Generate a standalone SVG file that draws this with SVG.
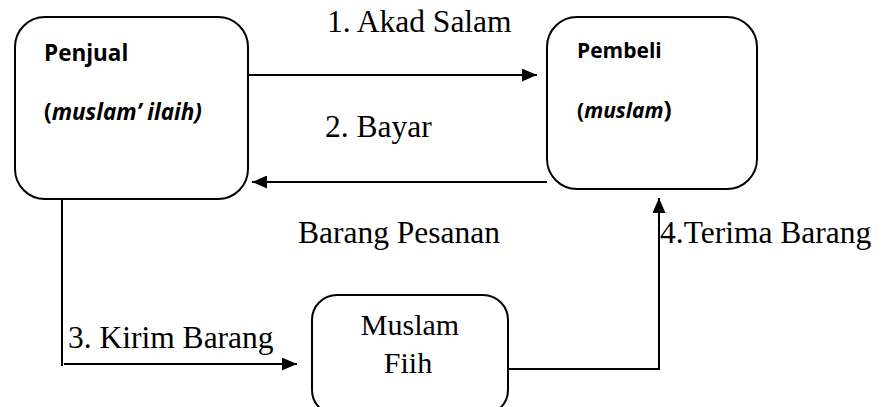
<svg xmlns="http://www.w3.org/2000/svg" width="882" height="407" viewBox="0 0 882 407">
<style>
.box{fill:#fff;stroke:#000;stroke-width:2}
.ln{fill:none;stroke:#000;stroke-width:2}
.t{font-family:"Liberation Serif","Times New Roman",serif;font-size:31.5px;fill:#000}
.n{font-family:"Liberation Serif","Times New Roman",serif;font-size:30px;fill:#000}
.s{font-family:"Open Sans",Lato,sans-serif;font-weight:bold;font-size:21px;fill:#000}
.b{font-size:22.5px}
.i{font-style:italic}
</style>
<defs>
<marker id="ah" markerWidth="15" markerHeight="13" refX="15" refY="6.5" orient="auto" markerUnits="userSpaceOnUse">
<path d="M0,0 L15,6.5 L0,13 Z" fill="#000"/>
</marker>
</defs>
<rect width="882" height="407" fill="#fff"/>
<g id="connectors">
<line class="ln" x1="248" y1="75" x2="537" y2="75" marker-end="url(#ah)"/>
<text class="t" x="327" y="32">1. Akad Salam</text>
<line class="ln" x1="547" y1="182" x2="252" y2="182" marker-end="url(#ah)"/>
<text class="t" x="325" y="137">2. Bayar</text>
<text class="t" x="298" y="243">Barang Pesanan</text>
<line class="ln" x1="62" y1="199" x2="62" y2="366"/>
<line class="ln" x1="64" y1="364" x2="297" y2="364" marker-end="url(#ah)"/>
<text class="t" x="68" y="348">3. Kirim Barang</text>
<polyline class="ln" points="508,369 659,369 659,198" marker-end="url(#ah)"/>
<text class="t" x="660" y="243">4.Terima Barang</text>
</g>
<g id="penjual">
<rect class="box" x="15" y="17" width="233" height="182" rx="30"/>
<text class="s b" x="44" y="61">Penjual</text>
<text class="s b" x="44" y="120">(<tspan class="i">muslam’ ilaih)</tspan></text>
</g>
<g id="pembeli">
<rect class="box" x="547" y="17" width="210" height="172" rx="30"/>
<text class="s" x="577" y="58">Pembeli</text>
<text class="s" x="577" y="118">(<tspan class="i">muslam</tspan><tspan font-size="24">)</tspan></text>
</g>
<g id="muslam-fiih">
<rect class="box" x="312" y="295" width="196" height="120" rx="25"/>
<text class="n" x="410" y="335" text-anchor="middle">Muslam</text>
<text class="n" x="408" y="373" text-anchor="middle">Fiih</text>
</g>
</svg>
